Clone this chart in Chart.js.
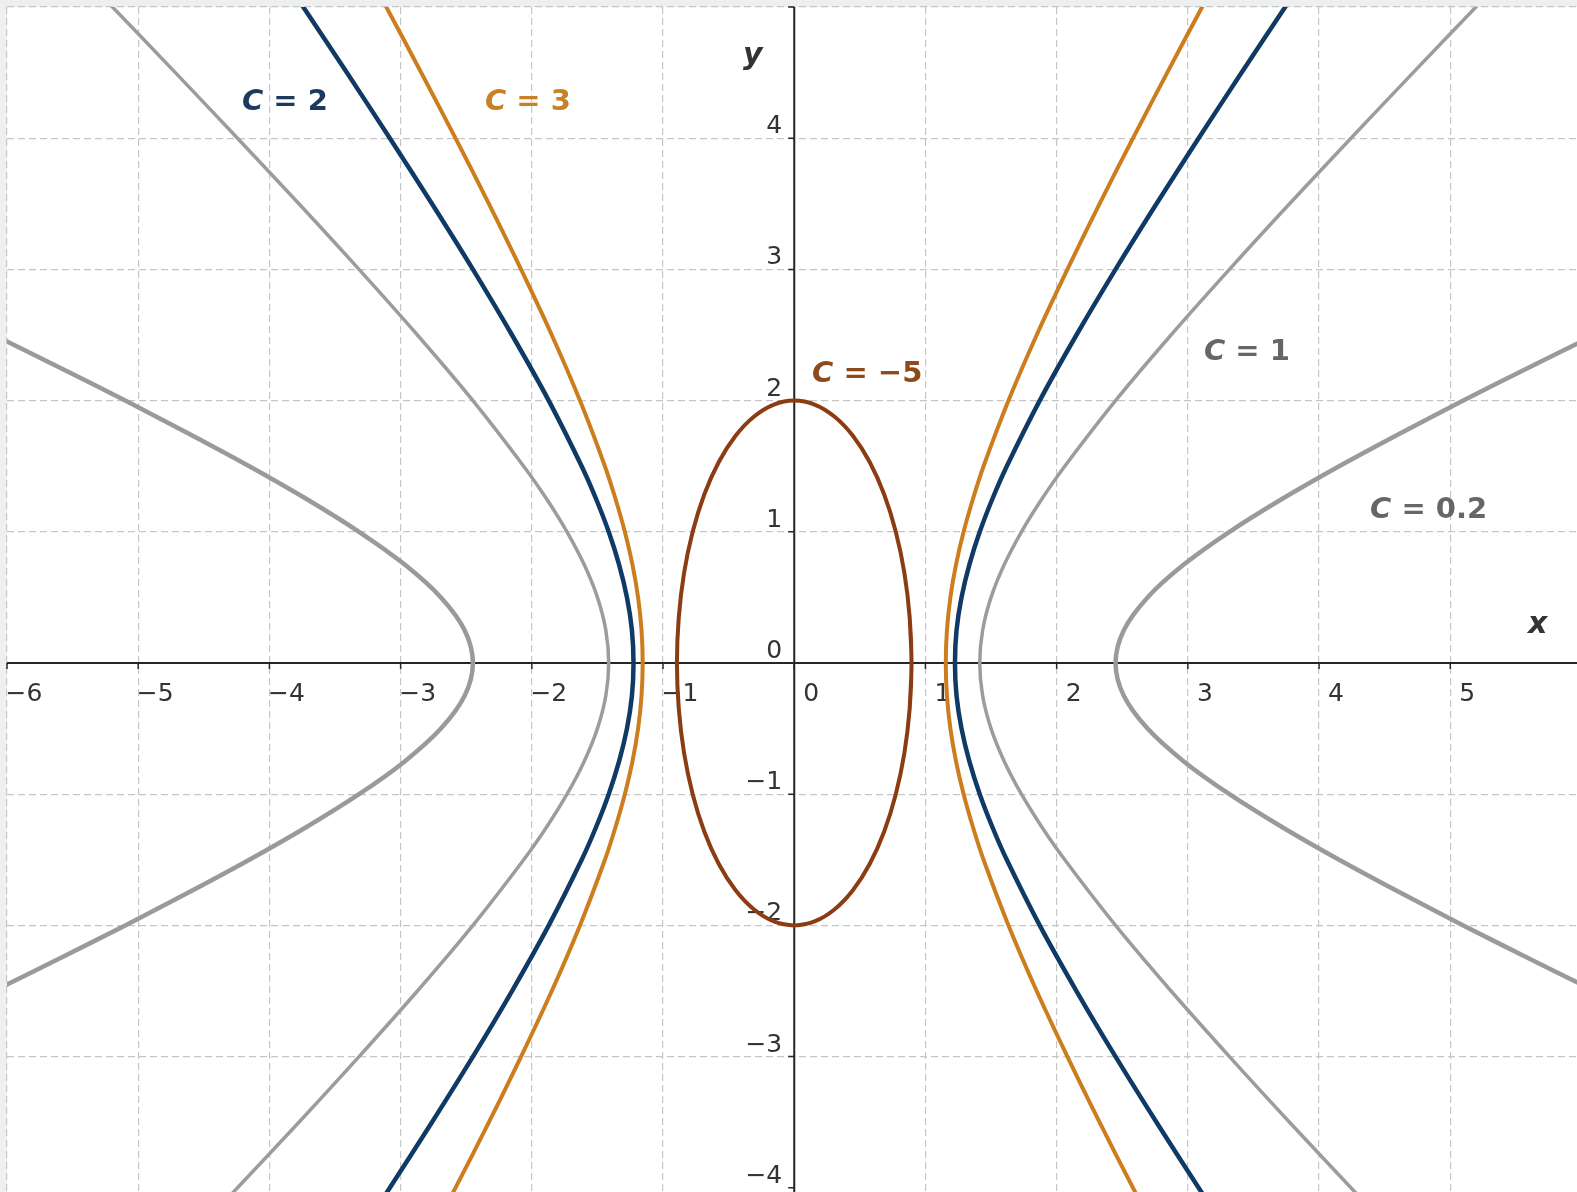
<!DOCTYPE html>
<html>
<head>
<meta charset="utf-8">
<title>Level curves</title>
<script src="https://cdn.jsdelivr.net/npm/chart.js@4.4.0/dist/chart.umd.min.js"></script>
<style>
  html, body { margin: 0; padding: 0; background: #eeefef; }
  canvas { display: block; }
</style>
</head>
<body>
<canvas id="levelChart" width="1577" height="1192"></canvas>
<script>
// --- data ---
// heights where the hyperbola branches were sampled
const hypY = [-4.5, -4, -3.5, -3, -2.5, -2, -1.5, -1.25, -1, -0.75, -0.5, -0.25, 0, 0.25, 0.5, 0.75, 1, 1.25, 1.5, 2, 2.5, 3, 3.5, 4, 4.5, 5, 5.5];
const c1Right = [4.717, 4.243, 3.775, 3.317, 2.872, 2.449, 2.062, 1.887, 1.732, 1.601, 1.5, 1.436, 1.414, 1.436, 1.5, 1.601, 1.732, 1.887, 2.062, 2.449, 2.872, 3.317, 3.775, 4.243, 4.717, 5.196, 5.679];
const c1Left = [-4.717, -4.243, -3.775, -3.317, -2.872, -2.449, -2.062, -1.887, -1.732, -1.601, -1.5, -1.436, -1.414, -1.436, -1.5, -1.601, -1.732, -1.887, -2.062, -2.449, -2.872, -3.317, -3.775, -4.243, -4.717, -5.196, -5.679];
const c2Right = [3.410, 3.082, 2.761, 2.449, 2.151, 1.871, 1.620, 1.510, 1.414, 1.335, 1.275, 1.237, 1.225, 1.237, 1.275, 1.335, 1.414, 1.510, 1.620, 1.871, 2.151, 2.449, 2.761, 3.082, 3.410, 3.742, 4.077];
const c2Left = [-3.410, -3.082, -2.761, -2.449, -2.151, -1.871, -1.620, -1.510, -1.414, -1.335, -1.275, -1.237, -1.225, -1.237, -1.275, -1.335, -1.414, -1.510, -1.620, -1.871, -2.151, -2.449, -2.761, -3.082, -3.410, -3.742, -4.077];
const c3Right = [2.843, 2.582, 2.327, 2.082, 1.848, 1.633, 1.443, 1.362, 1.291, 1.233, 1.190, 1.164, 1.155, 1.164, 1.190, 1.233, 1.291, 1.362, 1.443, 1.633, 1.848, 2.082, 2.327, 2.582, 2.843, 3.109, 3.379];
const c3Left = [-2.843, -2.582, -2.327, -2.082, -1.848, -1.633, -1.443, -1.362, -1.291, -1.233, -1.190, -1.164, -1.155, -1.164, -1.190, -1.233, -1.291, -1.362, -1.443, -1.633, -1.848, -2.082, -2.327, -2.582, -2.843, -3.109, -3.379];

// C = 0.2 is flatter, sampled on a shorter height range
const c02Y = [-3, -2.5, -2.25, -2, -1.75, -1.5, -1.25, -1, -0.75, -0.5, -0.25, 0, 0.25, 0.5, 0.75, 1, 1.25, 1.5, 1.75, 2, 2.25, 2.5, 3];
const c02Right = [7.141, 6.103, 5.596, 5.099, 4.617, 4.153, 3.717, 3.317, 2.969, 2.693, 2.512, 2.449, 2.512, 2.693, 2.969, 3.317, 3.717, 4.153, 4.617, 5.099, 5.596, 6.103, 7.141];
const c02Left = [-7.141, -6.103, -5.596, -5.099, -4.617, -4.153, -3.717, -3.317, -2.969, -2.693, -2.512, -2.449, -2.512, -2.693, -2.969, -3.317, -3.717, -4.153, -4.617, -5.099, -5.596, -6.103, -7.141];

// C = -5 closed oval (goes a little past a full turn so the join is smooth)
const ovalX = [0.880, 0.894, 0.880, 0.840, 0.774, 0.685, 0.575, 0.447, 0.306, 0.155, 0,
    -0.155, -0.306, -0.447, -0.575, -0.685, -0.774, -0.840, -0.880, -0.894,
    -0.880, -0.840, -0.774, -0.685, -0.575, -0.447, -0.306, -0.155, 0,
    0.155, 0.306, 0.447, 0.575, 0.685, 0.774, 0.840, 0.880, 0.894, 0.880];
const ovalY = [-0.347, 0, 0.347, 0.684, 1.0, 1.286, 1.532, 1.732, 1.879, 1.970, 2,
    1.970, 1.879, 1.732, 1.532, 1.286, 1.0, 0.684, 0.347, 0,
    -0.347, -0.684, -1.0, -1.286, -1.532, -1.732, -1.879, -1.970, -2,
    -1.970, -1.879, -1.732, -1.532, -1.286, -1.0, -0.684, -0.347, 0, 0.347];

// axis tick labels
const xTickValues = [-6, -5, -4, -3, -2, -1, 0, 1, 2, 3, 4, 5];
const yTickValues = [-4, -3, -2, -1, 0, 1, 2, 3, 4];

// visible window
const xMin = -6, xMax = 5.966;
const yMin = -4.032, yMax = 5;

// curve names, placed in data coordinates (left edge, baseline)
const curveLabels = [
    { rest: ' = 2', x: -4.209, y: 4.215, color: '#1c3a5e' },
    { rest: ' = 3', x: -2.357, y: 4.215, color: '#c98126' },
    { rest: ' = \u22125', x: 0.136, y: 2.142, color: '#8e4a1c' },
    { rest: ' = 1', x: 3.123, y: 2.309, color: '#666666' },
    { rest: ' = 0.2', x: 4.389, y: 1.105, color: '#666666' }
];

function toPoints(xs, ys) {
    return xs.map((v, i) => ({ x: v, y: ys[i] }));
}

function minusText(v) {
    return v < 0 ? '\u2212' + Math.abs(v) : String(v);
}

function curve(points, color, width) {
    return {
        data: points,
        showLine: true,
        borderColor: color,
        borderWidth: width,
        pointRadius: 0,
        pointHoverRadius: 0,
        tension: 0.35,
        fill: false,
        clip: 0
    };
}

// background, axes and tick labels
const axesPlugin = {
    id: 'axesPlugin',
    beforeDraw(chart) {
        const { ctx, chartArea: a } = chart;
        ctx.save();
        ctx.fillStyle = '#ffffff';
        ctx.fillRect(a.left, a.top, a.right - a.left, a.bottom - a.top);
        ctx.restore();
    },
    beforeDatasetsDraw(chart) {
        const { ctx, chartArea: a, scales } = chart;
        const x0 = scales.x.getPixelForValue(0);
        const y0 = scales.y.getPixelForValue(0);
        ctx.save();
        ctx.strokeStyle = '#262626';
        ctx.lineWidth = 2;
        ctx.beginPath();
        ctx.moveTo(a.left, y0); ctx.lineTo(a.right, y0);
        ctx.moveTo(x0, a.top); ctx.lineTo(x0, a.bottom);
        ctx.stroke();

        ctx.lineWidth = 1.5;
        ctx.beginPath();
        xTickValues.forEach(v => {
            const px = scales.x.getPixelForValue(v);
            ctx.moveTo(px, y0); ctx.lineTo(px, y0 + 6);
        });
        yTickValues.concat([5]).forEach(v => {
            const py = scales.y.getPixelForValue(v);
            ctx.moveTo(x0 - 6, py); ctx.lineTo(x0, py);
        });
        ctx.stroke();

        ctx.fillStyle = '#333333';
        ctx.font = '25px "DejaVu Sans"';
        ctx.textBaseline = 'alphabetic';
        ctx.textAlign = 'center';
        xTickValues.forEach(v => {
            const px = scales.x.getPixelForValue(v);
            ctx.fillText(minusText(v), px + 17, y0 + 38);
        });
        ctx.textAlign = 'right';
        yTickValues.forEach(v => {
            const py = scales.y.getPixelForValue(v);
            ctx.fillText(minusText(v), x0 - 12, py - 5);
        });
        ctx.restore();
    },
    afterDatasetsDraw(chart) {
        const { ctx, scales } = chart;
        ctx.save();
        ctx.textAlign = 'left';
        ctx.textBaseline = 'alphabetic';

        // axis names
        ctx.fillStyle = '#333333';
        ctx.font = 'bold italic 30px "DejaVu Sans"';
        ctx.fillText('x', scales.x.getPixelForValue(5.593), scales.y.getPixelForValue(0.229));
        ctx.fillText('y', scales.x.getPixelForValue(-0.39), scales.y.getPixelForValue(4.566));

        // C = ... labels
        curveLabels.forEach(l => {
            const px = scales.x.getPixelForValue(l.x);
            const py = scales.y.getPixelForValue(l.y);
            ctx.fillStyle = l.color;
            ctx.font = 'bold italic 29px "DejaVu Sans"';
            ctx.fillText('C', px, py);
            const w = ctx.measureText('C').width;
            ctx.font = 'bold 29px "DejaVu Sans"';
            ctx.fillText(l.rest, px + w, py);
        });
        ctx.restore();
    }
};

const gridColor = c => Number.isInteger(c.tick.value) ? '#c6c6c6' : 'rgba(0,0,0,0)';

new Chart(document.getElementById('levelChart').getContext('2d'), {
    type: 'scatter',
    data: {
        datasets: [
            curve(toPoints(ovalX, ovalY), '#8b3c12', 4),
            curve(toPoints(c3Right, hypY), '#cc7d1e', 4),
            curve(toPoints(c3Left, hypY), '#cc7d1e', 4),
            curve(toPoints(c2Right, hypY), '#103a66', 4.5),
            curve(toPoints(c2Left, hypY), '#103a66', 4.5),
            curve(toPoints(c1Right, hypY), '#9c9c9c', 3.5),
            curve(toPoints(c1Left, hypY), '#9c9c9c', 3.5),
            curve(toPoints(c02Right, c02Y), '#9a9a9a', 4.5),
            curve(toPoints(c02Left, c02Y), '#9a9a9a', 4.5)
        ]
    },
    options: {
        responsive: false,
        maintainAspectRatio: false,
        animation: false,
        events: [],
        layout: { padding: { left: 7, top: 7, right: 0, bottom: 0 } },
        elements: { line: { capBezierPoints: false, borderCapStyle: 'round', borderJoinStyle: 'round' } },
        plugins: {
            legend: { display: false },
            tooltip: { enabled: false }
        },
        scales: {
            x: {
                type: 'linear',
                min: xMin,
                max: xMax,
                ticks: { display: false, stepSize: 1 },
                grid: { color: gridColor, lineWidth: 1.2, drawTicks: false },
                border: { display: false, dash: [7, 4] }
            },
            y: {
                type: 'linear',
                min: yMin,
                max: yMax,
                ticks: { display: false, stepSize: 1 },
                grid: { color: gridColor, lineWidth: 1.2, drawTicks: false },
                border: { display: false, dash: [7, 4] }
            }
        }
    },
    plugins: [axesPlugin]
});
</script>
</body>
</html>
